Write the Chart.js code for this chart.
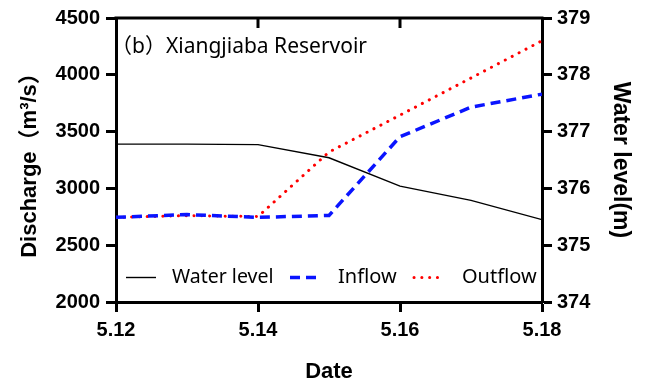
<!DOCTYPE html>
<html>
<head>
<meta charset="utf-8">
<script src="https://cdn.jsdelivr.net/npm/chart.js@4/dist/chart.umd.min.js"></script>
<style>
  html, body { margin: 0; padding: 0; background: #fff; }
  #wrap { width: 651px; height: 391px; position: relative; }
</style>
</head>
<body>
<div id="wrap"><canvas id="c" width="651" height="391"></canvas></div>
<script>
// Daily dates (May 12 - May 18)
const dates = ['5.12', '5.13', '5.14', '5.15', '5.16', '5.17', '5.18'];
// Reservoir water level, m (right axis)
const waterLevel = [376.78, 376.78, 376.77, 376.54, 376.04, 375.79, 375.45];
// Inflow discharge, m3/s (left axis)
const inflow = [2745, 2770, 2745, 2762, 3455, 3715, 3830];
// Outflow discharge, m3/s (left axis)
const outflow = [2745, 2760, 2752, 3320, 3645, 3972, 4300];

const panelTitle = '（b）Xiangjiaba Reservoir';

const toPoints = arr => arr.map((v, i) => ({ x: i, y: v }));

const tickFont = { family: "'Liberation Sans', Arial, sans-serif", size: 20, weight: 'bold' };
const titleFont = { family: "'Liberation Sans', Arial, 'Noto Sans CJK SC', sans-serif", size: 22, weight: 'bold' };

// Top frame line with inward ticks, panel title and in-plot legend
const framePlugin = {
  id: 'frame',
  afterDatasetsDraw(chart) {
    const { ctx, chartArea: a, scales } = chart;
    ctx.save();
    ctx.strokeStyle = '#000';
    ctx.lineWidth = 3;
    ctx.beginPath();
    ctx.moveTo(a.left - 1.5, a.top);
    ctx.lineTo(a.right + 1.5, a.top);
    ctx.stroke();
    // inward tick marks on the top frame
    scales.x.ticks.forEach(t => {
      if (t.value === scales.x.min || t.value === scales.x.max) return;
      const px = Math.round(scales.x.getPixelForValue(t.value));
      ctx.beginPath();
      ctx.moveTo(px, a.top);
      ctx.lineTo(px, a.top + 10);
      ctx.stroke();
    });

    // panel title
    ctx.fillStyle = '#000';
    ctx.font = "21px 'Noto Sans', 'Noto Sans CJK SC', sans-serif";
    ctx.textBaseline = 'middle';
    ctx.textAlign = 'left';
    ctx.fillText(panelTitle, a.left - 5, 47);

    // legend
    const ly = 277.5;
    const entries = [
      { ds: chart.data.datasets[0], x0: 126, x1: 156, tx: 172 },
      { ds: chart.data.datasets[1], x0: 290, x1: 322, tx: 338 },
      { ds: chart.data.datasets[2], x0: 414, x1: 443, tx: 462 }
    ];
    entries.forEach(e => {
      ctx.save();
      ctx.strokeStyle = e.ds.borderColor;
      ctx.lineWidth = e.ds.borderWidth;
      ctx.lineCap = e.ds.borderCapStyle || 'butt';
      ctx.setLineDash(e.ds.borderDash || []);
      ctx.beginPath();
      ctx.moveTo(e.x0, ly);
      ctx.lineTo(e.x1, ly);
      ctx.stroke();
      ctx.restore();
      ctx.fillStyle = '#000';
      ctx.font = e.ds.label === 'Water level' ? "19.5px 'Noto Sans', sans-serif" : "20px 'Noto Sans', sans-serif";
      ctx.textBaseline = 'middle';
      ctx.fillText(e.ds.label, e.tx, ly);
    });
    ctx.restore();
  }
};

new Chart(document.getElementById('c'), {
  type: 'line',
  data: {
    datasets: [
      {
        label: 'Water level',
        data: toPoints(waterLevel),
        yAxisID: 'y2',
        borderColor: '#000000',
        borderWidth: 1.4,
        pointRadius: 0,
        tension: 0,
        order: 1
      },
      {
        label: 'Inflow',
        data: toPoints(inflow),
        yAxisID: 'y',
        borderColor: '#0a14ff',
        borderWidth: 3.5,
        borderDash: [10, 6],
        pointRadius: 0,
        tension: 0,
        order: 2
      },
      {
        label: 'Outflow',
        data: toPoints(outflow),
        yAxisID: 'y',
        borderColor: '#ff0000',
        borderWidth: 3,
        borderDash: [0.1, 7.7],
        borderCapStyle: 'round',
        pointRadius: 0,
        tension: 0,
        order: 3
      }
    ]
  },
  options: {
    responsive: false,
    animation: false,
    devicePixelRatio: 1,
    layout: { padding: { top: 18, left: 0, right: 0, bottom: 0 } },
    plugins: { legend: { display: false }, tooltip: { enabled: false } },
    scales: {
      x: {
        type: 'linear',
        position: 'bottom',
        min: 0,
        max: dates.length - 1,
        ticks: {
          stepSize: 2,
          color: '#000',
          font: tickFont,
          padding: 6,
          maxRotation: 0,
          callback: v => dates[v]
        },
        grid: { drawOnChartArea: false, drawTicks: true, tickLength: 10, tickWidth: 3, tickColor: '#000' },
        border: { display: true, width: 3, color: '#000' },
        title: { display: true, text: 'Date', color: '#000', font: titleFont, padding: { top: 0, bottom: 6 } },
        afterFit(scale) { scale.height = 89; }
      },
      y: {
        type: 'linear',
        position: 'left',
        min: 2000,
        max: 4500,
        ticks: { stepSize: 500, color: '#000', font: tickFont, padding: 6, callback: v => String(v) },
        grid: { drawOnChartArea: false, drawTicks: true, tickLength: 10, tickWidth: 3, tickColor: '#000' },
        border: { display: true, width: 3, color: '#000' },
        title: { display: true, text: 'Discharge（m³/s）', color: '#000', font: titleFont, padding: { top: 17, bottom: 0 } },
        afterFit(scale) { scale.width = 116; }
      },
      y2: {
        type: 'linear',
        position: 'right',
        min: 374,
        max: 379,
        ticks: { stepSize: 1, color: '#000', font: tickFont, padding: 5, callback: v => String(v) },
        grid: { drawOnChartArea: false, drawTicks: true, tickLength: 10, tickWidth: 3, tickColor: '#000' },
        border: { display: true, width: 3, color: '#000' },
        title: { display: true, text: 'Water level(m)', color: '#000', font: { ...titleFont, size: 23 }, padding: { top: 17, bottom: 0 } },
        afterFit(scale) { scale.width = 109; }
      }
    }
  },
  plugins: [framePlugin]
});
</script>
</body>
</html>
